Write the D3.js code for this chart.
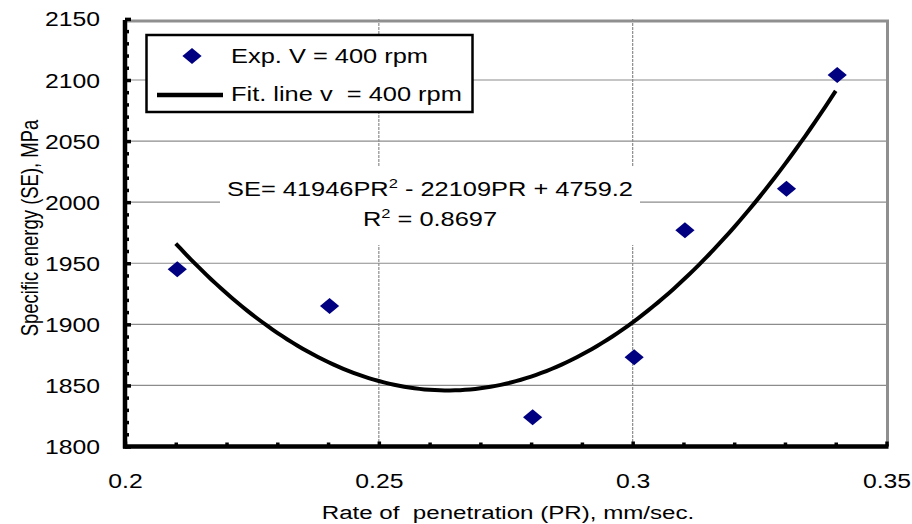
<!DOCTYPE html>
<html>
<head>
<meta charset="utf-8">
<script src="https://cdn.jsdelivr.net/npm/d3@7"></script>
<style>
  html, body { margin: 0; padding: 0; background: #fff; }
  svg { display: block; font-family: "Liberation Sans", Arial, sans-serif; }
</style>
</head>
<body>
<svg id="chart" width="912" height="524"></svg>
<script>
// Measured specific energy at V = 400 rpm
const penetrationRate = [0.21, 0.24, 0.28, 0.30, 0.31, 0.33, 0.34];
const specificEnergy  = [1945, 1915, 1824, 1873, 1977, 2011, 2104];

// Second-order trendline SE = a·PR² + b·PR + c
const fitCoefficients = [41946, -22109, 4759.2];
const fitRange = [0.21, 0.34];
const rSquared = "0.8697";

const xMajorTicks = [0.2, 0.25, 0.3, 0.35];
const xTickLabels = ["0.2", "0.25", "0.3", "0.35"];
const yMajorTicks = [1800, 1850, 1900, 1950, 2000, 2050, 2100, 2150];

const seriesLabels = ["Exp. V = 400 rpm", "Fit. line v  = 400 rpm"];
const xTitle = "Rate of  penetration (PR), mm/sec.";
const yTitle = "Specific energy (SE), MPa";

// text is drawn horizontally widened
const SX = 1.27;

const svg = d3.select("#chart");
const x = d3.scaleLinear().domain([0.2, 0.35]).range([125, 886.5]);
const y = d3.scaleLinear().domain([1800, 2150]).range([446.5, 18.9]);

const xMinor = d3.range(0.2, 0.3501, 0.01).map(v => +v.toFixed(2)).filter(v => !xMajorTicks.includes(v));
const yMinor = d3.range(1800, 2151, 10).filter(v => !yMajorTicks.includes(v));

// grid
const grid = svg.append("g");
grid.selectAll("line.h").data(yMajorTicks.filter(v => v > 1800 && v < 2150)).join("line")
  .attr("x1", x(0.2)).attr("x2", x(0.35))
  .attr("y1", d => y(d)).attr("y2", d => y(d))
  .attr("stroke", "#8c8c8c").attr("stroke-width", 1.2);
grid.selectAll("line.v").data(xMajorTicks.filter(v => v > 0.2 && v < 0.35)).join("line")
  .attr("x1", d => x(d)).attr("x2", d => x(d))
  .attr("y1", y(2150)).attr("y2", y(1800))
  .attr("stroke", "#8c8c8c").attr("stroke-width", 1.2)
  .attr("stroke-dasharray", "3,1");

// plot-area frame (top and right)
svg.append("path")
  .attr("d", `M${x(0.2)},21 H${x(0.35) + 1} V${y(1800)}`)
  .attr("fill", "none").attr("stroke", "#8f8f8f").attr("stroke-width", 3);

// equation box
const eq = svg.append("g");
eq.append("rect").attr("x", 220).attr("y", 167).attr("width", 420).attr("height", 78).attr("fill", "#fff");
const eqLine1 = eq.append("text").attr("transform", `translate(430,196) scale(${SX},1)`)
  .attr("text-anchor", "middle").attr("font-size", 20).attr("fill", "#000");
eqLine1.append("tspan").text(`SE= ${fitCoefficients[0]}PR`);
eqLine1.append("tspan").attr("font-size", 13).attr("dy", -8).text("2");
eqLine1.append("tspan").attr("dy", 8).text(` - ${-fitCoefficients[1]}PR + ${fitCoefficients[2]}`);
const eqLine2 = eq.append("text").attr("transform", `translate(430,226) scale(${SX},1)`)
  .attr("text-anchor", "middle").attr("font-size", 20).attr("fill", "#000");
eqLine2.append("tspan").text("R");
eqLine2.append("tspan").attr("font-size", 13).attr("dy", -8).text("2");
eqLine2.append("tspan").attr("dy", 8).text(` = ${rSquared}`);

// fitted curve
const fit = pr => fitCoefficients[0] * pr * pr + fitCoefficients[1] * pr + fitCoefficients[2];
const fitPts = d3.range(0, 131).map(i => fitRange[0] + (fitRange[1] - fitRange[0]) * i / 130);
svg.append("path")
  .datum(fitPts)
  .attr("d", d3.line().x(d => x(d)).y(d => y(fit(d))).curve(d3.curveLinear))
  .attr("fill", "none").attr("stroke", "#000").attr("stroke-width", 4)
  .attr("stroke-linejoin", "round");

// experimental points
const diamond = d3.symbol(d3.symbolSquare, 128)();
svg.selectAll("path.pt").data(penetrationRate).join("path")
  .attr("d", diamond)
  .attr("transform", (d, i) => `translate(${x(d) + 1.5},${y(specificEnergy[i])}) scale(1.2,1) rotate(45)`)
  .attr("fill", "#000080");

// axes
const xAxis = svg.append("g").attr("transform", `translate(0,${y(1800)})`)
  .call(d3.axisBottom(x).tickValues(xMajorTicks).tickSize(-5).tickFormat((d, i) => xTickLabels[i]));
const xAxisMinor = svg.append("g").attr("transform", `translate(0,${y(1800)})`)
  .call(d3.axisBottom(x).tickValues(xMinor).tickSize(-4).tickFormat(""));
const yAxis = svg.append("g").attr("transform", `translate(${x(0.2)},0)`)
  .call(d3.axisLeft(y).tickValues(yMajorTicks).tickSize(-6).tickFormat(d3.format("d")));
const yAxisMinor = svg.append("g").attr("transform", `translate(${x(0.2)},0)`)
  .call(d3.axisLeft(y).tickValues(yMinor).tickSize(-4).tickFormat(""));

[xAxis, xAxisMinor, yAxis, yAxisMinor].forEach(g => {
  g.select(".domain").attr("stroke", "#000").attr("stroke-width", 4.5);
  g.selectAll(".tick line").attr("stroke", "#000").attr("stroke-width", 3.5);
});
xAxisMinor.select(".domain").remove();
yAxisMinor.select(".domain").remove();
yAxis.select(".domain").attr("d", `M0,${y(2150) + 1}V${y(1800) + 2}`);
xAxis.select(".domain").attr("d", `M${x(0.2) - 2},0H${x(0.35) + 2}`);

xAxis.selectAll(".tick text")
  .attr("y", 0).attr("dy", 0)
  .attr("transform", `translate(0,41.5) scale(${SX},1)`)
  .attr("font-size", 19.5).attr("font-family", "Liberation Sans, Arial, sans-serif").attr("fill", "#000");
yAxis.selectAll(".tick text")
  .attr("x", 0).attr("dy", "0.36em")
  .attr("transform", `translate(-25,0) scale(${SX},1)`)
  .attr("font-size", 19.5).attr("font-family", "Liberation Sans, Arial, sans-serif").attr("fill", "#000");

// axis titles
svg.append("text")
  .attr("transform", `translate(508,519) scale(${SX},1)`)
  .attr("text-anchor", "middle").attr("font-size", 19).attr("fill", "#000")
  .attr("xml:space", "preserve").style("white-space", "pre")
  .text(xTitle);
svg.append("text")
  .attr("transform", `translate(38,228) rotate(-90) scale(1,${SX})`)
  .attr("text-anchor", "middle").attr("font-size", 18.5).attr("fill", "#000")
  .text(yTitle);

// legend
const legend = svg.append("g");
legend.append("rect").attr("x", 146.5).attr("y", 35).attr("width", 326).attr("height", 77)
  .attr("fill", "#fff").attr("stroke", "#000").attr("stroke-width", 2.5);
legend.append("path").attr("d", diamond)
  .attr("transform", `translate(192,56) scale(1.2,1) rotate(45)`).attr("fill", "#000080");
legend.append("line").attr("x1", 157).attr("x2", 223).attr("y1", 95).attr("y2", 95)
  .attr("stroke", "#000").attr("stroke-width", 4.5);
legend.selectAll("text").data(seriesLabels).join("text")
  .attr("transform", (d, i) => `translate(231,${i ? 101 : 62.5}) scale(${SX},1)`)
  .attr("font-size", 20).attr("fill", "#000")
  .attr("xml:space", "preserve").style("white-space", "pre")
  .text(d => d);
</script>
</body>
</html>
